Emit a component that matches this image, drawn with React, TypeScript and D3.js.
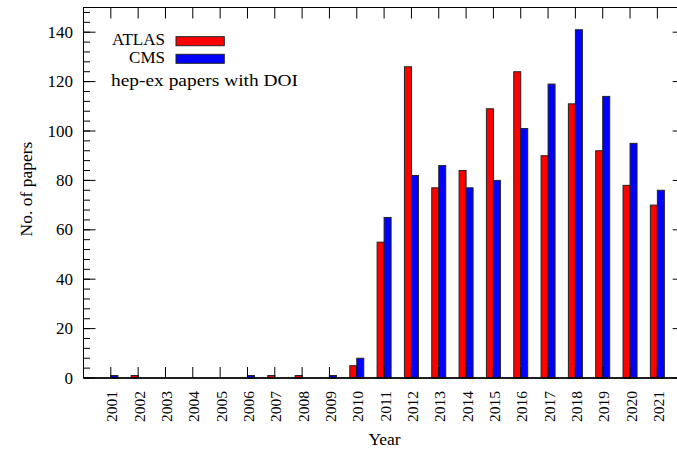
import React from "react";
import * as d3 from "d3";

const years = [2001, 2002, 2003, 2004, 2005, 2006, 2007, 2008, 2009, 2010, 2011, 2012, 2013, 2014, 2015, 2016, 2017, 2018, 2019, 2020, 2021];
const atlas = [0, 1, 0, 0, 0, 0, 1, 1, 0, 5, 55, 126, 77, 84, 109, 124, 90, 111, 92, 78, 70];
const cms = [1, 0, 0, 0, 0, 1, 0, 0, 1, 8, 65, 82, 86, 77, 80, 101, 119, 141, 114, 95, 76];
const yMajorTicks = [0, 20, 40, 60, 80, 100, 120, 140];
const yMinorTicks = d3.range(0, 151, 4);
const seriesNames = ["ATLAS", "CMS"];
const seriesColors = ["#ff0000", "#0000ff"];

const W = 677;
const H = 451;
const left = 83.5;
const right = 684.7;
const top = 7.5;
const bottom = 378;
const font = "Liberation Serif, DejaVu Serif, serif";

export default function App() {
  const x = d3.scaleLinear().domain([2000, 2022]).range([left, right]);
  const y = d3.scaleLinear().domain([0, 150]).range([bottom, top]);
  const bw = (x(2001) - x(2000)) * 0.256;
  const series = [atlas, cms];
  const ts = { fontFamily: font };

  return (
    <svg width={W} height={H} style={{ position: "absolute", left: 0, top: 0, background: "#fff", fontFamily: font }}>
      <rect x={0} y={0} width={W} height={H} fill="#fff" />
      {series.map((vals, si) =>
        vals.map((v, i) =>
          v > 0 ? (
            <rect
              key={`${si}-${i}`}
              x={si === 0 ? x(years[i]) - bw : x(years[i])}
              y={y(v)}
              width={bw}
              height={y(0) - y(v)}
              fill={seriesColors[si]}
              stroke="#222"
              strokeWidth={1}
            />
          ) : null
        )
      )}
      <rect x={left} y={top} width={right - left} height={bottom - top} fill="none" stroke="#000" strokeWidth={1} />
      <line x1={left} x2={right} y1={bottom} y2={bottom} stroke="#000" strokeWidth={1.6} />
      {years.map((yr) => (
        <g key={yr}>
          <line x1={x(yr)} x2={x(yr)} y1={bottom} y2={bottom - 11} stroke="#000" strokeWidth={1} />
          <line x1={x(yr)} x2={x(yr)} y1={top} y2={top + 11} stroke="#000" strokeWidth={1} />
          <text
            transform={`translate(${x(yr) + 6.5},391) rotate(-90)`}
            textAnchor="end"
            fontSize={15.5}
            fill="#000"
            style={ts}
          >
            {yr}
          </text>
        </g>
      ))}
      {yMinorTicks.map((t) => (
        <g key={`m${t}`}>
          <line x1={left} x2={left + 6.5} y1={y(t)} y2={y(t)} stroke="#000" strokeWidth={1} />
          <line x1={right} x2={right - 6.5} y1={y(t)} y2={y(t)} stroke="#000" strokeWidth={1} />
        </g>
      ))}
      {yMajorTicks.map((t) => (
        <g key={`M${t}`}>
          <line x1={left} x2={left + 12} y1={y(t)} y2={y(t)} stroke="#000" strokeWidth={1} />
          <line x1={right} x2={right - 12} y1={y(t)} y2={y(t)} stroke="#000" strokeWidth={1} />
          <text x={73} y={y(t) + 5.5} textAnchor="end" fontSize={17} fill="#000" style={ts}>
            {t}
          </text>
        </g>
      ))}
      <text transform={`translate(32,189) rotate(-90)`} textAnchor="middle" fontSize={17.5} fill="#000" style={ts}>
        No. of papers
      </text>
      <text x={384.5} y={445} textAnchor="middle" fontSize={17.5} fill="#000" style={ts}>
        Year
      </text>
      {seriesNames.map((n, i) => (
        <g key={n}>
          <text x={165} y={45 + i * 17.5} textAnchor="end" fontSize={17} fill="#000" style={ts}>
            {n}
          </text>
          <rect x={176} y={36.7 + i * 17.6} width={48.3} height={9} fill={seriesColors[i]} stroke="#222" strokeWidth={1} />
        </g>
      ))}
      <text x={111} y={85.5} fontSize={17.5} fill="#000" textLength={187} lengthAdjust="spacingAndGlyphs" style={ts}>
        hep-ex papers with DOI
      </text>
    </svg>
  );
}
